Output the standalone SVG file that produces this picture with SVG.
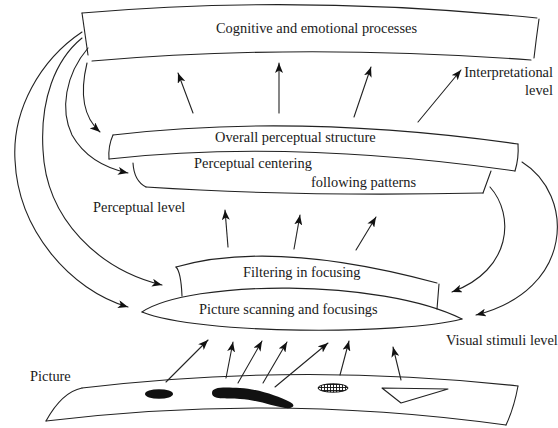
<svg xmlns="http://www.w3.org/2000/svg" width="558" height="428" viewBox="0 0 558 428">
<style>
  .ln { fill: none; stroke: #222; stroke-width: 1.1; stroke-linecap: round; stroke-linejoin: round; }
  .ar { fill: none; stroke: #222; stroke-width: 1.1; stroke-linecap: round; marker-end: url(#head); }
  .tx { font-family: "Liberation Serif", "Times New Roman", serif; font-size: 14.4px; fill: #1a1a1a; }
</style>
<defs>
  <marker id="head" viewBox="0 0 10 8" refX="10" refY="4" markerWidth="10" markerHeight="8" markerUnits="userSpaceOnUse" orient="auto">
    <path d="M0,0 L10,4 L0,8 L2.5,4 Z" fill="#111"/>
  </marker>
  <pattern id="hatch" width="3" height="3" patternUnits="userSpaceOnUse">
    <rect width="3" height="3" fill="#fff"/>
    <path d="M0,0.5 H3 M0.5,0 V3" stroke="#111" stroke-width="0.9"/>
  </pattern>
</defs>
<rect width="558" height="428" fill="#fff"/>

<g id="cognitive">
  <path class="ln" d="M82,13 Q300,-6 537,18"/>
  <path class="ln" d="M539,19 Q536,40 534,58"/>
  <path class="ln" d="M92,61 Q300,43 531,60"/>
  <path class="ln" d="M82,13 L88,55"/>
  <text class="tx" x="216" y="33">Cognitive and emotional processes</text>
</g>

<g id="interpretational-level">
  <text class="tx" x="553" y="77" text-anchor="end">Interpretational</text>
  <text class="tx" x="553" y="95" text-anchor="end">level</text>
</g>

<g id="perceptual-structure">
  <path class="ln" d="M113,135 Q300,113 518,144"/>
  <path class="ln" d="M113,135 Q108,146 109,159"/>
  <path class="ln" d="M109,159 Q290,139 515,171"/>
  <path class="ln" d="M518,144 Q519,158 515,171"/>
  <text class="tx" x="215" y="142">Overall perceptual structure</text>
</g>

<g id="perceptual-centering">
  <path class="ln" d="M133,163 Q134,181 146,187"/>
  <path class="ln" d="M146,187 Q300,197 483,193"/>
  <path class="ln" d="M483,193 L491,171"/>
  <text class="tx" x="194" y="168">Perceptual centering</text>
  <text class="tx" x="311" y="187">following patterns</text>
</g>

<g id="perceptual-level">
  <text class="tx" x="93" y="212">Perceptual level</text>
</g>

<g id="filtering">
  <path class="ln" d="M176,267 Q274,239 437,283"/>
  <path class="ln" d="M176,267 Q181,272 182,296"/>
  <path class="ln" d="M439,284 L437,309"/>
  <text class="tx" x="243" y="277">Filtering in focusing</text>
</g>

<g id="scanning">
  <path class="ln" d="M142,312 C190,280 380,278 462,319"/>
  <path class="ln" d="M142,312 C200,335 400,335 462,319"/>
  <text class="tx" x="199" y="314">Picture scanning and focusings</text>
</g>

<g id="visual-stimuli-level">
  <text class="tx" x="446" y="345">Visual stimuli level</text>
</g>

<g id="picture">
  <text class="tx" x="30" y="381">Picture</text>
  <path class="ln" d="M82,388 Q300,362 518,386"/>
  <path class="ln" d="M82,388 Q62,392 46,421"/>
  <path class="ln" d="M46,421 Q276,393 506,425"/>
  <path class="ln" d="M518,386 Q514,408 506,425"/>
  <ellipse cx="159" cy="394" rx="14" ry="4.8" fill="#111"/>
  <path d="M212,393 C212,387 222,387 240,388 C258,389 278,396 290,402 C296,405 294,409 285,408 C272,406 258,400 240,399 C225,398 212,400 212,393 Z" fill="#111"/>
  <ellipse cx="333" cy="388" rx="15" ry="4.2" fill="url(#hatch)" stroke="#111" stroke-width="1"/>
  <path class="ln" d="M382,388 L448,389 L401,403 Z"/>
</g>

<g id="connectors">
  <!-- top arrows -->
  <line class="ar" x1="193" y1="113" x2="178" y2="73"/>
  <line class="ar" x1="279" y1="113" x2="279" y2="63"/>
  <line class="ar" x1="354" y1="117" x2="371" y2="67"/>
  <line class="ar" x1="418" y1="122" x2="461" y2="70"/>
  <!-- middle arrows -->
  <line class="ar" x1="228" y1="247" x2="225" y2="210"/>
  <line class="ar" x1="294" y1="249" x2="300" y2="215"/>
  <line class="ar" x1="356" y1="250" x2="376" y2="217"/>
  <!-- picture arrows -->
  <line class="ar" x1="166" y1="382" x2="208" y2="340"/>
  <line class="ar" x1="226" y1="378" x2="233" y2="342"/>
  <line class="ar" x1="238" y1="383" x2="262" y2="341"/>
  <line class="ar" x1="263" y1="383" x2="287" y2="342"/>
  <line class="ar" x1="275" y1="387" x2="328" y2="343"/>
  <line class="ar" x1="340" y1="375" x2="349" y2="341"/>
  <line class="ar" x1="401" y1="380" x2="393" y2="347"/>
  <!-- left feedback curves -->
  <path class="ar" d="M87,63 C80,92 82,116 100,132"/>
  <path class="ar" d="M88,48 C65,75 60,110 72,135 C85,158 105,168 128,173"/>
  <path class="ar" d="M82,38 C55,60 40,100 43,150 C46,220 100,270 162,285"/>
  <path class="ar" d="M82,32 C40,60 12,110 15,160 C18,230 70,290 128,307"/>
  <!-- right feedback curves -->
  <path class="ar" d="M490,187 C515,215 512,270 452,292"/>
  <path class="ar" d="M522,162 C575,195 575,290 476,315"/>
</g>
</svg>
